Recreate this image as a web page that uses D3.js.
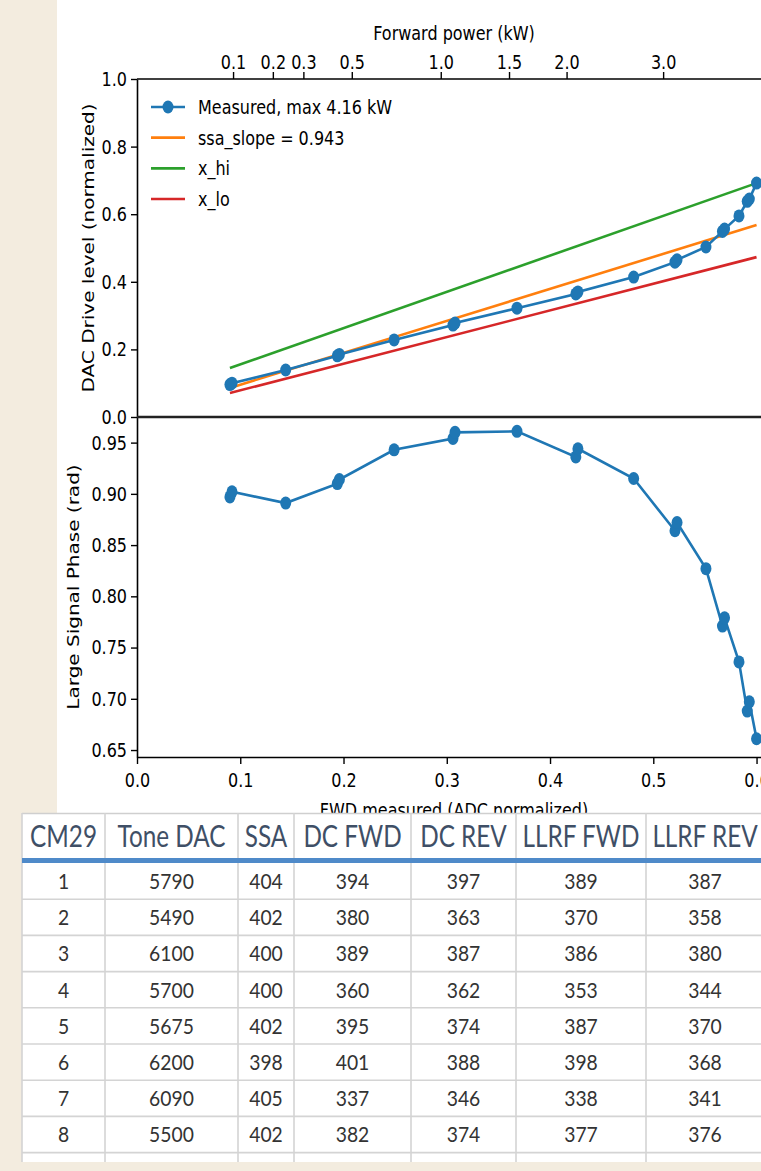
<!DOCTYPE html>
<html>
<head>
<meta charset="utf-8">
<script src="https://cdn.jsdelivr.net/npm/d3@7"></script>
<style>
  html, body { margin: 0; padding: 0; background: #f3ecdf; }
  svg { display: block; }
</style>
</head>
<body>
<script>
// ---------------- DATA ----------------
// Measured points (FWD measured, ADC normalized)
const fwdMeasured   = [0.090,0.092, 0.144, 0.194,0.196, 0.249, 0.306,0.308, 0.368, 0.425,0.427, 0.481, 0.521,0.523, 0.551, 0.567,0.569, 0.583, 0.591,0.593, 0.600];
const dacMeasured   = [0.096,0.100, 0.139, 0.181,0.185, 0.228, 0.272,0.278, 0.322, 0.364,0.370, 0.414, 0.458,0.465, 0.503, 0.549,0.556, 0.595, 0.638,0.645, 0.692];
const phaseMeasured = [0.897,0.902, 0.891, 0.910,0.914, 0.943, 0.954,0.960, 0.961, 0.936,0.944, 0.915, 0.864,0.872, 0.827, 0.771,0.779, 0.736, 0.688,0.697, 0.661];

// Straight reference lines (read at both ends)
const refLineX   = [0.090, 0.600];
const ssaSlope   = [0.086, 0.568];
const xHi        = [0.145, 0.692];
const xLo        = [0.071, 0.473];

const legendLabels = ["Measured, max 4.16 kW", "ssa_slope = 0.943", "x_hi", "x_lo"];
const maxPowerKW = 4.16;
const topTicksKW = [0.1, 0.2, 0.3, 0.5, 1.0, 1.5, 2.0, 3.0];
const xTicks = [0.0, 0.1, 0.2, 0.3, 0.4, 0.5, 0.6];
const upperYTicks = [0.0, 0.2, 0.4, 0.6, 0.8, 1.0];
const lowerYTicks = [0.65, 0.70, 0.75, 0.80, 0.85, 0.90, 0.95];

// Table
const tableHeaders = ["CM29", "Tone DAC", "SSA", "DC FWD", "DC REV", "LLRF FWD", "LLRF REV"];
const cm29     = [1, 2, 3, 4, 5, 6, 7, 8];
const toneDac  = [5790, 5490, 6100, 5700, 5675, 6200, 6090, 5500];
const ssa      = [404, 402, 400, 400, 402, 398, 405, 402];
const dcFwd    = [394, 380, 389, 360, 395, 401, 337, 382];
const dcRev    = [397, 363, 387, 362, 374, 388, 346, 374];
const llrfFwd  = [389, 370, 386, 353, 387, 398, 338, 377];
const llrfRev  = [387, 358, 380, 344, 370, 368, 341, 376];

// ---------------- LAYOUT ----------------
const W = 761, H = 1171;
const SX = 0.8;               // horizontal squeeze of the screenshot text
const FONT = "'DejaVu Sans', sans-serif";
const C_BLUE = "#1f77b4", C_ORANGE = "#ff7f0e", C_GREEN = "#2ca02c", C_RED = "#d62728";

const svg = d3.select("body").append("svg").attr("width", W).attr("height", H);
svg.append("rect").attr("width", W).attr("height", H).attr("fill", "#f3ecdf");
svg.append("rect").attr("x", 57).attr("y", 0).attr("width", W - 57).attr("height", 813).attr("fill", "#ffffff");

const x = d3.scaleLinear().domain([0, 0.614]).range([137, 771]);
const yU = d3.scaleLinear().domain([0, 1]).range([417, 79]);
const yL = d3.scaleLinear().domain([0.6432, 0.975]).range([757, 417]);
const xTop = d3.scaleSqrt().domain([0, maxPowerKW]).range([x(0), x(d3.max(fwdMeasured))]);

function sText(g, px, py, str, anchor, size, extra) {
  return g.append("text")
    .attr("transform", `translate(${px},${py}) scale(${SX},1)` + (extra || ""))
    .attr("text-anchor", anchor || "start")
    .attr("font-family", FONT)
    .attr("font-size", size || 20)
    .attr("fill", "#000")
    .text(str);
}

function styleAxis(g, orient) {
  g.select(".domain").attr("stroke", "#000").attr("stroke-width", 1.6);
  g.selectAll(".tick line").attr("stroke", "#000").attr("stroke-width", 1.4);
  const t = g.selectAll(".tick text")
    .attr("font-family", FONT).attr("font-size", 20).attr("fill", "#000");
  if (orient === "left") {
    t.attr("transform", `scale(${SX},1)`).attr("x", -10 / SX);
  } else {
    t.attr("transform", `scale(${SX},1)`);
  }
}

const chart = svg.append("g");

// ---- Upper panel ----
const lineGen = (xs, ys, ysc) => d3.line().x((d, i) => x(xs[i])).y((d, i) => ysc(ys[i]))(xs);

[[xHi, C_GREEN], [ssaSlope, C_ORANGE], [xLo, C_RED]].forEach(([vals, col]) => {
  chart.append("path").attr("d", lineGen(refLineX, vals, yU))
    .attr("fill", "none").attr("stroke", col).attr("stroke-width", 2.6);
});

chart.append("path").attr("d", lineGen(fwdMeasured, dacMeasured, yU))
  .attr("fill", "none").attr("stroke", C_BLUE).attr("stroke-width", 2.6);
chart.append("g").selectAll("ellipse").data(fwdMeasured).join("ellipse")
  .attr("cx", (d) => x(d)).attr("cy", (d, i) => yU(dacMeasured[i]))
  .attr("rx", 5.5).attr("ry", 6.5).attr("fill", C_BLUE);

// ---- Lower panel ----
chart.append("path").attr("d", lineGen(fwdMeasured, phaseMeasured, yL))
  .attr("fill", "none").attr("stroke", C_BLUE).attr("stroke-width", 2.6);
chart.append("g").selectAll("ellipse").data(fwdMeasured).join("ellipse")
  .attr("cx", (d) => x(d)).attr("cy", (d, i) => yL(phaseMeasured[i]))
  .attr("rx", 5.5).attr("ry", 6.5).attr("fill", C_BLUE);

// ---- Axes ----
const gTop = chart.append("g").attr("transform", `translate(0,${yU(1)})`)
  .call(d3.axisTop(xTop).tickValues(topTicksKW).tickFormat(d3.format(".1f")).tickSize(7).tickSizeOuter(0).tickPadding(3));
styleAxis(gTop, "top");
gTop.select(".domain").remove();
chart.append("line").attr("x1", x.range()[0]).attr("x2", x.range()[1]).attr("y1", yU(1)).attr("y2", yU(1))
  .attr("stroke", "#000").attr("stroke-width", 1.6);

const gUL = chart.append("g").attr("transform", `translate(${x(0)},0)`)
  .call(d3.axisLeft(yU).tickValues(upperYTicks).tickFormat(d3.format(".1f")).tickSize(6).tickSizeOuter(0));
styleAxis(gUL, "left");

const gLL = chart.append("g").attr("transform", `translate(${x(0)},0)`)
  .call(d3.axisLeft(yL).tickValues(lowerYTicks).tickFormat(d3.format(".2f")).tickSize(6).tickSizeOuter(0));
styleAxis(gLL, "left");

// shared middle spine
chart.append("line").attr("x1", x.range()[0]).attr("x2", x.range()[1]).attr("y1", yU(0)).attr("y2", yU(0))
  .attr("stroke", "#222").attr("stroke-width", 2.4);

const gB = chart.append("g").attr("transform", `translate(0,${yL.range()[0]})`)
  .call(d3.axisBottom(x).tickValues(xTicks).tickFormat(d3.format(".1f")).tickSize(7).tickSizeOuter(0).tickPadding(9));
styleAxis(gB, "bottom");

// right spine (mostly outside the view)
chart.append("line").attr("x1", x.range()[1]).attr("x2", x.range()[1]).attr("y1", yU(1)).attr("y2", yL.range()[0])
  .attr("stroke", "#000").attr("stroke-width", 1.6);

// ---- Axis labels ----
const midX = (x.range()[0] + x.range()[1]) / 2;
sText(chart, midX, 40, "Forward power (kW)", "middle");
sText(chart, 94, (yU(0) + yU(1)) / 2, "DAC Drive level (normalized)", "middle", 20, " rotate(-90)");
sText(chart, 79, (yL.range()[0] + yL.range()[1]) / 2, "Large Signal Phase (rad)", "middle", 20, " rotate(-90)");
sText(chart, midX, 817, "FWD measured (ADC normalized)", "middle");

// ---- Legend ----
const legendColors = [C_BLUE, C_ORANGE, C_GREEN, C_RED];
const legY = d3.scalePoint().domain(legendLabels).range([107, 199]);
const leg = chart.append("g");
legendLabels.forEach((lab, i) => {
  const yy = legY(lab);
  leg.append("line").attr("x1", 151).attr("x2", 185).attr("y1", yy).attr("y2", yy)
    .attr("stroke", legendColors[i]).attr("stroke-width", 2.6);
  if (i === 0) leg.append("ellipse").attr("cx", 168).attr("cy", yy).attr("rx", 5.5).attr("ry", 6.5).attr("fill", C_BLUE);
  sText(leg, 198, yy + 7, lab, "start");
});

// ---------------- TABLE ----------------
const tableTop = 813, tableBottom = 1162, tableLeft = 22;
const colWidths = [83, 133, 56, 117, 105, 130, 118];
const colEdges = [tableLeft].concat(Array.from(d3.cumsum(colWidths), (w) => tableLeft + w));
const columns = [cm29, toneDac, ssa, dcFwd, dcRev, llrfFwd, llrfRev];
const rowsData = cm29.map((_, i) => columns.map((c) => c[i]));
const rowBand = d3.scaleBand().domain(d3.range(9)).range([863, 863 + 9 * 36.2]).paddingInner(0);

const tbl = svg.append("g");
tbl.append("rect").attr("x", tableLeft).attr("y", tableTop)
  .attr("width", W - tableLeft + 10).attr("height", tableBottom - tableTop).attr("fill", "#ffffff");

// horizontal grid
tbl.append("line").attr("x1", tableLeft).attr("x2", W + 10).attr("y1", tableTop + 0.5).attr("y2", tableTop + 0.5)
  .attr("stroke", "#cfcfcf").attr("stroke-width", 1.5);
d3.range(8).forEach((i) => {
  const yy = rowBand(i) + rowBand.bandwidth();
  tbl.append("line").attr("x1", tableLeft).attr("x2", W + 10).attr("y1", yy).attr("y2", yy)
    .attr("stroke", "#d4d4d4").attr("stroke-width", 1.6);
});
// vertical grid
colEdges.forEach((ex) => {
  tbl.append("line").attr("x1", ex).attr("x2", ex).attr("y1", tableTop).attr("y2", tableBottom)
    .attr("stroke", "#d4d4d4").attr("stroke-width", 1.6);
});
// blue header rule
tbl.append("rect").attr("x", tableLeft).attr("y", 858).attr("width", W - tableLeft + 10).attr("height", 5)
  .attr("fill", "#4f8ac9");

// header text
tableHeaders.forEach((h, j) => {
  const cx = (colEdges[j] + colEdges[j + 1]) / 2;
  tbl.append("text")
    .attr("transform", `translate(${cx},847) scale(0.81,1)`)
    .attr("text-anchor", "middle").attr("font-family", "Lato, sans-serif")
    .attr("font-size", 30).attr("fill", "#3f4f66").text(h);
});

// body text
rowsData.forEach((row, i) => {
  row.forEach((v, j) => {
    const cx = (colEdges[j] + colEdges[j + 1]) / 2;
    tbl.append("text")
      .attr("transform", `translate(${cx},${rowBand(i) + 26}) scale(0.92,1)`)
      .attr("text-anchor", "middle").attr("font-family", "Lato, sans-serif")
      .attr("font-size", 21).attr("fill", "#333333").text(v);
  });
});
</script>
</body>
</html>
